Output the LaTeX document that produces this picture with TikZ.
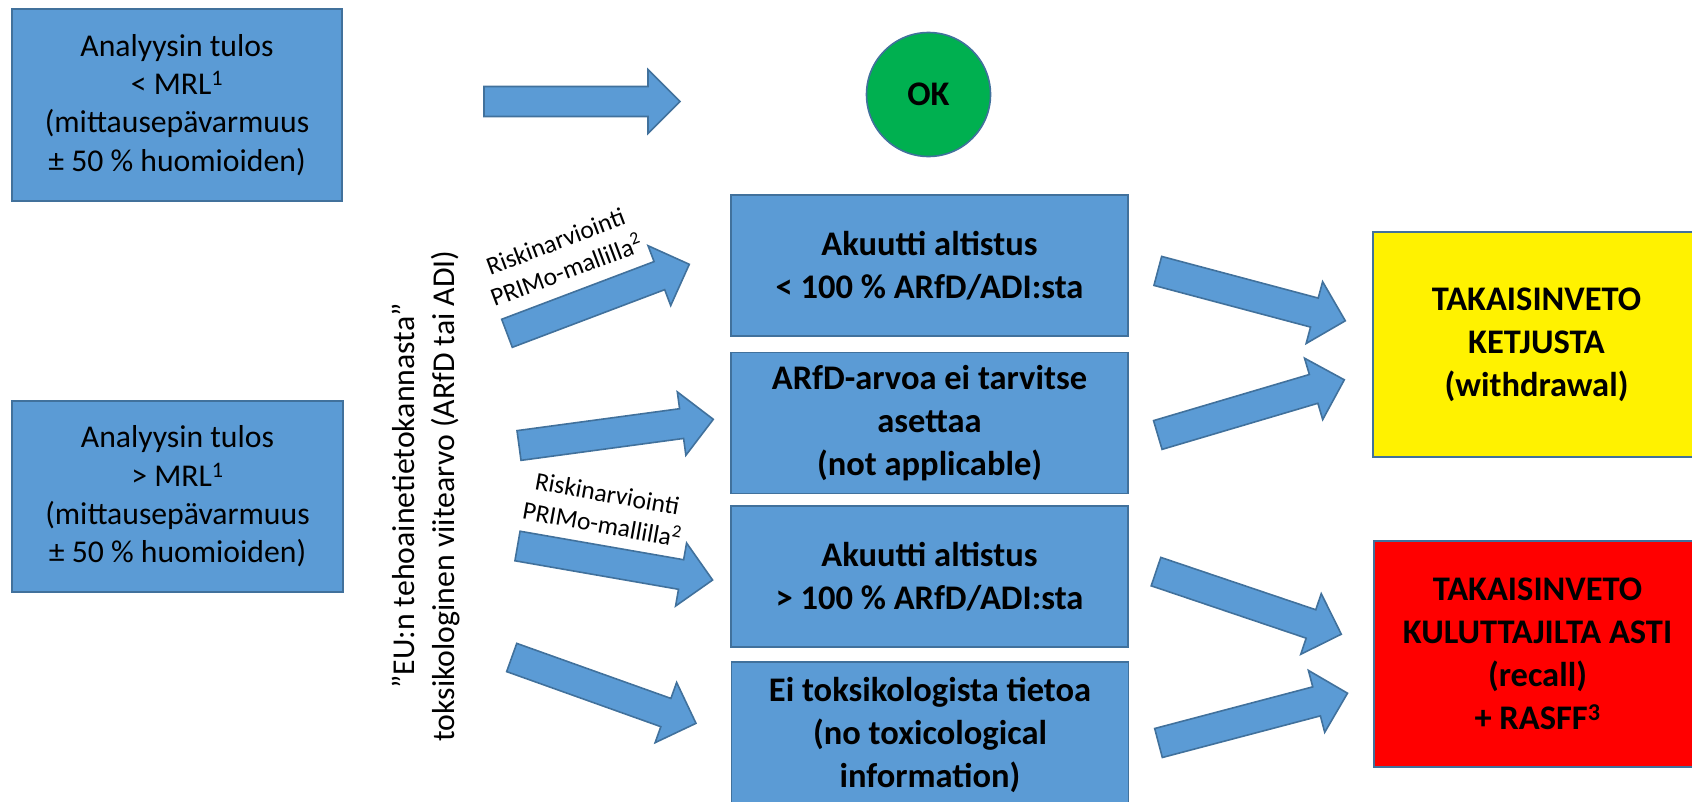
\documentclass[tikz,border=0pt]{standalone}
\usepackage{fontspec}
\setmainfont{Carlito}
\usetikzlibrary{calc,positioning}
\definecolor{boxblue}{HTML}{5B9BD5}
\definecolor{edgeblue}{HTML}{41719C}
\definecolor{okgreen}{HTML}{00B050}
\tikzset{
  % result boxes on the left, decision boxes in the middle
  result/.style={draw=edgeblue, line width=1.6pt, fill=boxblue, rectangle,
  align=center, inner sep=0pt,
  font=\fontsize{31.7}{38.3}\selectfont},
  block/.style={draw=edgeblue, line width=1.6pt, fill=boxblue, rectangle,
  align=center, inner sep=0pt,
  font=\bfseries\fontsize{34.5}{43}\selectfont,
  minimum width=397pt, minimum height=141pt},
  action/.style={block, minimum width=327pt, minimum height=225pt},
  risklabel/.style={fill=white, align=center, inner sep=1pt,
  font=\fontsize{25.5}{31}\selectfont},
  barrowline/.style={draw=edgeblue, line width=1.6pt, fill=boxblue, line join=miter}}
% block arrow from tail centre #1 to tip #2
\newcommand{\barrow}[2]{%
  \coordinate (hb) at ($(#2)!32pt!(#1)$);
  \draw[barrowline] ($(#1)!15pt!90:(#2)$) -- ($(hb)!15pt!90:(#2)$)
    -- ($(hb)!32pt!90:(#2)$) -- (#2) -- ($(hb)!32pt!-90:(#2)$)
    -- ($(hb)!15pt!-90:(#2)$) -- ($(#1)!15pt!-90:(#2)$) -- cycle;}

\begin{document}
\begin{tikzpicture}[x=1pt, y=-1pt]
\useasboundingbox (0,0) rectangle (1692,801);
\clip (0,0) rectangle (1692,801);

\node (reslow) [result, minimum width=330pt, minimum height=192pt] at (177,105)
{Analyysin tulos\\< MRL\textsuperscript{1}\\(mittausepävarmuus\\± 50 \% huomioiden)};
\node (reshigh) [result, minimum width=331pt, minimum height=191pt] at (177.5,496.5)
{Analyysin tulos\\> MRL\textsuperscript{1}\\(mittausepävarmuus\\± 50 \% huomioiden)};

\node (ok) [circle, draw=edgeblue, line width=1.6pt, fill=okgreen, minimum size=124pt,
  font=\bfseries\fontsize{34.5}{43}\selectfont] at (928.5,94.5) {OK};

\node (acutelow) [block] at (929.5,265.5) {Akuutti altistus\\< 100 \% ARfD/ADI:sta};
\node (noarfd) [block] at (929.5,423) {ARfD-arvoa ei tarvitse\\asettaa\\(not applicable)};
\node (acutehigh) [block] at (929.5,576.5) {Akuutti altistus\\> 100 \% ARfD/ADI:sta};
\node (notox) [block, minimum height=146pt] at (930,735)
{Ei toksikologista tietoa\\(no toxicological\\information)};

\node (withdraw) [action, fill=yellow] at (1536.5,344.5) {TAKAISINVETO\\KETJUSTA\\(withdrawal)};
\node (recall) [action, fill=red, minimum height=226pt] at (1537.5,654)
{TAKAISINVETO\\KULUTTAJILTA ASTI\\(recall)\\+ RASFF\textsuperscript{3}};

\node (refval) [rotate=90, align=center, inner sep=0pt,
  font=\fontsize{31.8}{40}\selectfont] at (426,496)
{”EU:n tehoainetietokannasta”\\toksikologinen viitearvo (ARfD tai ADI)};

% arrow ends
\coordinate (okS) at (484,101.5);      \coordinate (okE) at (680,101.5);
\coordinate (lowS) at (507,333.3);     \coordinate (lowE) at (689.3,264.3);
\coordinate (naS) at (519,445.5);      \coordinate (naE) at (713.3,419.3);
\coordinate (highS) at (517.5,546);    \coordinate (highE) at (712.6,580);
\coordinate (ntS) at (511.7,657.5);    \coordinate (ntE) at (696,723.3);
\coordinate (wd1S) at (1157.8,270.9);  \coordinate (wd1E) at (1345.3,320.8);
\coordinate (wd2S) at (1157.8,435);    \coordinate (wd2E) at (1344.3,379.8);
\coordinate (rc1S) at (1156,571.6);    \coordinate (rc1E) at (1341.3,634.2);
\coordinate (rc2S) at (1158.5,743);    \coordinate (rc2E) at (1347.5,693.2);

\barrow{okS}{okE}
\barrow{lowS}{lowE}
\barrow{naS}{naE}
\barrow{highS}{highE}
\barrow{ntS}{ntE}
\barrow{wd1S}{wd1E}
\barrow{wd2S}{wd2E}
\barrow{rc1S}{rc1E}
\barrow{rc2S}{rc2E}

\node (risk1) [risklabel, rotate=20.7] at (561,256) {Riskinarviointi\\PRIMo-mallilla\textsuperscript{2}};
\node (risk2) [risklabel, rotate=-10.2] at (604.7,509) {Riskinarviointi\\PRIMo-mallilla\textsuperscript{2}};

\end{tikzpicture}
\end{document}
